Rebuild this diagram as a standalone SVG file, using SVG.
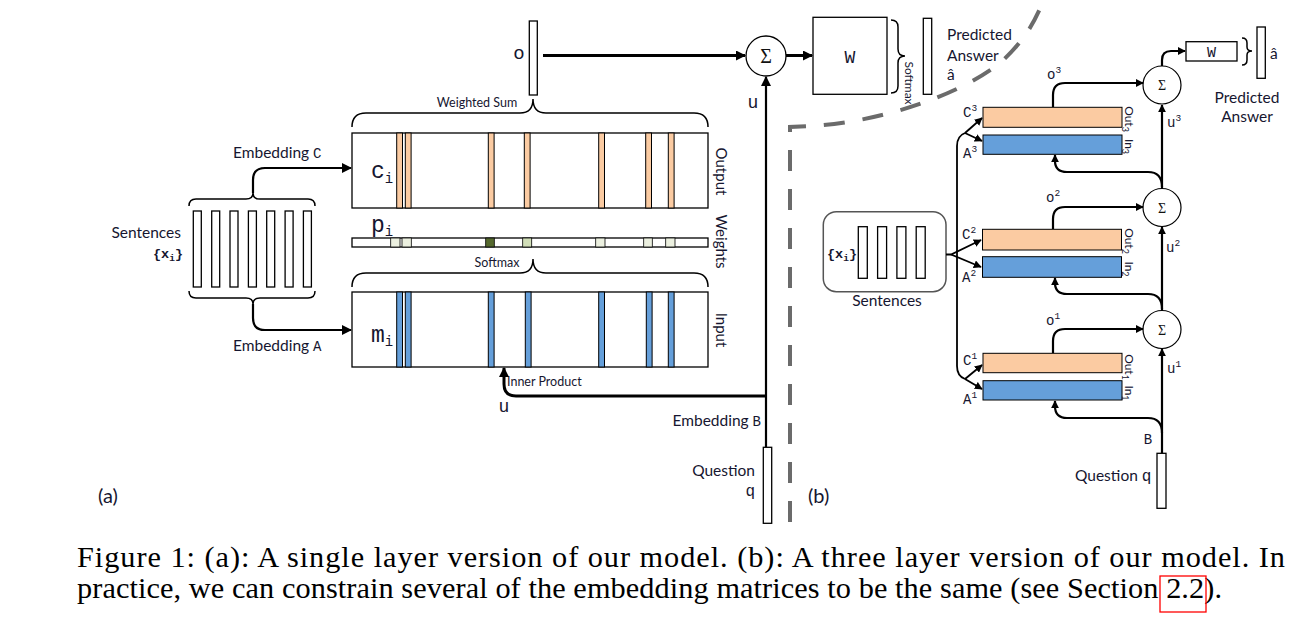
<svg xmlns="http://www.w3.org/2000/svg" width="1309" height="622" viewBox="0 0 1309 622">
<style>
.lbl{font-family:Lato,"Open Sans","Liberation Sans",sans-serif;fill:#161630}
.mono{font-family:"Liberation Mono","DejaVu Sans Mono",monospace;fill:#161630}
.ser{font-family:"Liberation Serif","DejaVu Serif",serif;fill:#111}
.box{fill:#fff;stroke:#000;stroke-width:1.3}
.or{fill:#FBCBA2;stroke:#000;stroke-width:1}
.bl{fill:#659FDA;stroke:#000;stroke-width:1}
.wt{stroke:#000;stroke-width:0.8}
.br{fill:none;stroke:#000;stroke-width:1.5}
.c3{fill:none;stroke:#000;stroke-width:3}
.c2{fill:none;stroke:#000;stroke-width:2.2}
.c1{fill:none;stroke:#000;stroke-width:1.8}
.cap{font-family:"Liberation Serif","Times New Roman",serif;font-size:30.3px;fill:#000}
</style>
<defs>
<marker id="ah" viewBox="0 0 10 10" refX="9" refY="5" markerWidth="11" markerHeight="10" markerUnits="userSpaceOnUse" orient="auto"><path d="M0,0 L10,5 L0,10 z" fill="#000"/></marker>
<marker id="as" viewBox="0 0 10 10" refX="9" refY="5" markerWidth="8" markerHeight="8" markerUnits="userSpaceOnUse" orient="auto"><path d="M0,0 L10,5 L0,10 z" fill="#000"/></marker>
</defs>
<rect width="1309" height="622" fill="#fff"/>

<!-- dashed separator -->
<path d="M790 522 L790 127 L812 126 C880 122 960 95 1000 63 C1020 45 1032 28 1042 4" fill="none" stroke="#6b6b6b" stroke-width="4" stroke-dasharray="21 18"/>

<!-- ===== (a) ===== -->
<g id="sentences-a">
<rect class="box" x="193.3" y="211" width="8" height="76"/>
<rect class="box" x="211.7" y="211" width="8" height="76"/>
<rect class="box" x="230" y="211" width="8" height="76"/>
<rect class="box" x="248.4" y="211" width="8" height="76"/>
<rect class="box" x="266.7" y="211" width="8" height="76"/>
<rect class="box" x="285.1" y="211" width="8" height="76"/>
<rect class="box" x="303.4" y="211" width="8" height="76"/>
<text class="lbl" x="181" y="238" font-size="15.5" text-anchor="end">Sentences</text>
<text class="mono" x="183" y="258" font-size="13.5" font-weight="bold" text-anchor="end">{x<tspan font-size="9.5" dy="3">i</tspan><tspan dy="-3">}</tspan></text>
<path class="br" d="M189 206 Q189 199 196 199 L246 199 Q253 199 253 193 Q253 199 260 199 L308 199 Q315 199 315 206"/>
<path class="br" d="M189 291 Q189 298 196 298 L246 298 Q253 298 253 304 Q253 298 260 298 L308 298 Q315 298 315 291"/>
</g>

<g id="output-mem">
<rect class="box" x="352" y="133" width="356" height="75"/>
<rect class="or" x="396.7" y="133" width="5.8" height="75"/>
<rect class="or" x="405.3" y="133" width="5.8" height="75"/>
<rect class="or" x="488.3" y="133" width="5.8" height="75"/>
<rect class="or" x="524.3" y="133" width="5.8" height="75"/>
<rect class="or" x="598.7" y="133" width="5.8" height="75"/>
<rect class="or" x="645.7" y="133" width="5.8" height="75"/>
<rect class="or" x="668.3" y="133" width="5.8" height="75"/>
<text class="mono" x="371" y="178" font-size="23">c<tspan font-size="14" dy="5">i</tspan></text>
<text class="lbl" font-size="15" text-anchor="middle" transform="translate(715.5,171.5) rotate(90)">Output</text>
</g>

<g id="weights">
<rect class="box" x="352" y="238" width="356" height="9" stroke-width="1"/>
<rect class="wt" x="390.7" y="238" width="9.3" height="9" fill="#ECF0E0"/>
<rect class="wt" x="402" y="238" width="9.3" height="9" fill="#ECF0E0"/>
<rect class="wt" x="485.7" y="238" width="8.6" height="9" fill="#56692F"/>
<rect class="wt" x="522.7" y="238" width="9" height="9" fill="#D1DEB8"/>
<rect class="wt" x="595.7" y="238" width="9.3" height="9" fill="#ECF0E0"/>
<rect class="wt" x="643.7" y="238" width="8.6" height="9" fill="#ECF0E0"/>
<rect class="wt" x="665.7" y="238" width="9.3" height="9" fill="#ECF0E0"/>
<text class="mono" x="371" y="232" font-size="23">p<tspan font-size="14" dy="4">i</tspan></text>
<text class="lbl" font-size="15" text-anchor="middle" transform="translate(715.5,241.5) rotate(90)">Weights</text>
</g>

<g id="input-mem">
<rect class="box" x="352" y="292" width="356" height="75"/>
<rect class="bl" x="396.7" y="292" width="5.8" height="75"/>
<rect class="bl" x="405.3" y="292" width="5.8" height="75"/>
<rect class="bl" x="488.3" y="292" width="5.8" height="75"/>
<rect class="bl" x="525.3" y="292" width="5.8" height="75"/>
<rect class="bl" x="598.7" y="292" width="5.8" height="75"/>
<rect class="bl" x="646.3" y="292" width="5.8" height="75"/>
<rect class="bl" x="668.3" y="292" width="5.8" height="75"/>
<text class="mono" x="371" y="342" font-size="23">m<tspan font-size="14" dy="4">i</tspan></text>
<text class="lbl" font-size="15" text-anchor="middle" transform="translate(715.5,330) rotate(90)">Input</text>
</g>

<g id="braces-a">
<path class="br" d="M352 127 Q352 113 366 113 L520 113 Q533 113 533 99 Q533 113 546 113 L694 113 Q708 113 708 127"/>
<text class="lbl" x="477" y="107" font-size="12.5" text-anchor="middle">Weighted Sum</text>
<path class="br" d="M352 287 Q352 273 366 273 L520 273 Q533 273 533 259 Q533 273 546 273 L694 273 Q708 273 708 287"/>
<text class="lbl" x="497" y="267" font-size="12.5" text-anchor="middle">Softmax</text>
</g>

<g id="o-vec">
<rect class="box" x="529.3" y="21" width="8" height="74"/>
<text class="mono" x="519" y="59" font-size="19" text-anchor="middle">o</text>
</g>

<g id="sum-a">
<circle cx="766" cy="56" r="20" fill="#fff" stroke="#000" stroke-width="1.3"/>
<text class="ser" x="766" y="63" font-size="20" text-anchor="middle">Σ</text>
</g>

<g id="W-a">
<rect class="box" x="813" y="17.3" width="74" height="77"/>
<text class="mono" x="850" y="63" font-size="18" text-anchor="middle">W</text>
<path class="br" d="M891 20 Q898 20 898 27 L898 49 Q898 56 905 56 Q898 56 898 63 L898 86 Q898 93 891 93"/>
<text class="lbl" font-size="12" text-anchor="middle" transform="translate(905,83) rotate(90)">Softmax</text>
</g>

<g id="answer-a">
<rect class="box" x="923.3" y="18.3" width="8.4" height="76"/>
<text class="lbl" x="947" y="40" font-size="15.5">Predicted</text>
<text class="lbl" x="947" y="61" font-size="15.5">Answer</text>
<text class="lbl" x="947" y="80" font-size="15.5">â</text>
</g>

<g id="question-a">
<rect class="box" x="763.3" y="447.3" width="8.4" height="76"/>
<text class="lbl" x="755" y="476" font-size="15.5" text-anchor="end">Question</text>
<text class="mono" x="755" y="496" font-size="16" text-anchor="end">q</text>
</g>

<g id="labels-a">
<text class="lbl" x="233" y="158" font-size="15.5">Embedding <tspan class="mono" font-size="14">C</tspan></text>
<text class="lbl" x="233" y="351" font-size="15.5">Embedding <tspan class="mono" font-size="14">A</tspan></text>
<text class="lbl" x="761" y="426" font-size="15.5" text-anchor="end">Embedding <tspan class="mono" font-size="14">B</tspan></text>
<text class="lbl" x="507" y="386" font-size="12.5">Inner Product</text>
<text class="mono" x="504" y="412" font-size="18" text-anchor="middle">u</text>
<text class="mono" x="753" y="108" font-size="18" text-anchor="middle">u</text>
<text class="lbl" x="98" y="503" font-size="20">(a)</text>
</g>

<g id="connectors-a">
<path class="c2" d="M253 193 L253 180 Q253 168 265 168 L351 168" marker-end="url(#ah)"/>
<path class="c2" d="M253 304 L253 318 Q253 330 265 330 L351 330" marker-end="url(#ah)"/>
<path class="c3" d="M543 55.5 L745 55.5" marker-end="url(#ah)"/>
<path class="c3" d="M786 55.5 L812 55.5" marker-end="url(#ah)"/>
<path class="c2" d="M766 447 L766 77" marker-end="url(#ah)"/>
<path class="c3" d="M766 396 L516 396 Q504 396 504 384 L504 368" marker-end="url(#ah)"/>
</g>

<!-- ===== (b) ===== -->
<g id="sentences-b">
<rect x="823.3" y="211.7" width="122.7" height="80" rx="13" fill="#fff" stroke="#555" stroke-width="1.5"/>
<rect class="box" x="858.3" y="226.7" width="9" height="51.6"/>
<rect class="box" x="877.6" y="226.7" width="9" height="51.6"/>
<rect class="box" x="896.9" y="226.7" width="9" height="51.6"/>
<rect class="box" x="916.2" y="226.7" width="9" height="51.6"/>
<text class="mono" x="827" y="258" font-size="13.5" font-weight="bold">{x<tspan font-size="9.5" dy="3">i</tspan><tspan dy="-3">}</tspan></text>
<text class="lbl" x="887" y="306" font-size="15.5" text-anchor="middle">Sentences</text>
</g>

<g id="layer3">
<rect class="or" x="983" y="107.3" width="139" height="20"/>
<rect class="bl" x="983" y="135" width="139" height="19.3"/>
<text class="mono" x="963" y="117" font-size="14">C<tspan font-size="9.5" dy="-6">3</tspan></text>
<text class="mono" x="963" y="158" font-size="14">A<tspan font-size="9.5" dy="-6">3</tspan></text>
<text class="lbl" font-size="12" text-anchor="middle" transform="translate(1125,119) rotate(90)">Out<tspan font-size="9" dy="3">3</tspan></text>
<text class="lbl" font-size="12" text-anchor="middle" transform="translate(1125,146.5) rotate(90)">In<tspan font-size="9" dy="3">3</tspan></text>
<text class="mono" x="1047" y="79" font-size="14">o<tspan font-size="9.5" dy="-6">3</tspan></text>
<text class="mono" x="1167" y="127" font-size="14">u<tspan font-size="9.5" dy="-6">3</tspan></text>
</g>
<g id="sum3">
<circle cx="1162" cy="85" r="19" fill="#fff" stroke="#000" stroke-width="1.2"/>
<text class="ser" x="1162" y="90" font-size="14" text-anchor="middle">Σ</text>
</g>

<g id="layer2">
<rect class="or" x="982.5" y="229.3" width="139" height="20.7"/>
<rect class="bl" x="982.5" y="256.7" width="139" height="20.6"/>
<text class="mono" x="962" y="239" font-size="14">C<tspan font-size="9.5" dy="-6">2</tspan></text>
<text class="mono" x="962" y="282" font-size="14">A<tspan font-size="9.5" dy="-6">2</tspan></text>
<text class="lbl" font-size="12" text-anchor="middle" transform="translate(1125,241) rotate(90)">Out<tspan font-size="9" dy="3">2</tspan></text>
<text class="lbl" font-size="12" text-anchor="middle" transform="translate(1125,269) rotate(90)">In<tspan font-size="9" dy="3">2</tspan></text>
<text class="mono" x="1046" y="202" font-size="14">o<tspan font-size="9.5" dy="-6">2</tspan></text>
<text class="mono" x="1166" y="252" font-size="14">u<tspan font-size="9.5" dy="-6">2</tspan></text>
</g>
<g id="sum2">
<circle cx="1162" cy="207.5" r="19" fill="#fff" stroke="#000" stroke-width="1.2"/>
<text class="ser" x="1162" y="212.5" font-size="14" text-anchor="middle">Σ</text>
</g>

<g id="layer1">
<rect class="or" x="983" y="353.3" width="139" height="19.4"/>
<rect class="bl" x="983" y="380.7" width="139" height="19.3"/>
<text class="mono" x="963" y="365" font-size="14">C<tspan font-size="9.5" dy="-6">1</tspan></text>
<text class="mono" x="963" y="404" font-size="14">A<tspan font-size="9.5" dy="-6">1</tspan></text>
<text class="lbl" font-size="12" text-anchor="middle" transform="translate(1125,367) rotate(90)">Out<tspan font-size="9" dy="3">1</tspan></text>
<text class="lbl" font-size="12" text-anchor="middle" transform="translate(1125,393) rotate(90)">In<tspan font-size="9" dy="3">1</tspan></text>
<text class="mono" x="1046" y="325" font-size="14">o<tspan font-size="9.5" dy="-6">1</tspan></text>
<text class="mono" x="1167" y="373" font-size="14">u<tspan font-size="9.5" dy="-6">1</tspan></text>
</g>
<g id="sum1">
<circle cx="1162" cy="329.5" r="19" fill="#fff" stroke="#000" stroke-width="1.2"/>
<text class="ser" x="1162" y="334.5" font-size="14" text-anchor="middle">Σ</text>
</g>

<g id="W-b">
<rect class="box" x="1186" y="41.7" width="51" height="19.3"/>
<text class="mono" x="1211.5" y="57" font-size="15" text-anchor="middle">W</text>
<path class="br" d="M1242 38 Q1247 38 1247 43 L1247 47 Q1247 51 1252 51 Q1247 51 1247 55 L1247 60 Q1247 65 1242 65"/>
</g>

<g id="answer-b">
<rect class="box" x="1257" y="27" width="8.3" height="51.3"/>
<text class="lbl" x="1270" y="59" font-size="15.5">â</text>
<text class="lbl" x="1247" y="103" font-size="15.5" text-anchor="middle">Predicted</text>
<text class="lbl" x="1247" y="122" font-size="15.5" text-anchor="middle">Answer</text>
</g>

<g id="question-b">
<rect class="box" x="1157" y="453.3" width="9" height="55"/>
<text class="lbl" x="1075" y="481" font-size="15.5">Question <tspan class="mono" font-size="16">q</tspan></text>
<text class="mono" x="1148" y="444" font-size="14" text-anchor="middle">B</text>
<text class="lbl" x="808" y="503" font-size="20">(b)</text>
</g>

<g id="connectors-b">
<path class="c1" d="M965 133 Q957 136 957 146 L957 366 Q957 376 965 379"/>
<path class="c1" d="M965 133 L982 118" marker-end="url(#as)"/>
<path class="c1" d="M965 133 L982 141" marker-end="url(#as)"/>
<path class="c1" d="M965 379 L982 365" marker-end="url(#as)"/>
<path class="c1" d="M965 379 L982 389" marker-end="url(#as)"/>
<path class="c1" d="M946 254.5 L951 254.5 L981 240" marker-end="url(#as)"/>
<path class="c1" d="M951 254.5 L981 267" marker-end="url(#as)"/>
<path class="c2" d="M1162 453 L1162 349" marker-end="url(#as)"/>
<path class="c2" d="M1162 310 L1162 227" marker-end="url(#as)"/>
<path class="c2" d="M1162 188 L1162 105" marker-end="url(#as)"/>
<path class="c2" d="M1162 433 Q1162 418 1148 418 L1067 418 Q1055 418 1055 406 L1055 401" marker-end="url(#as)"/>
<path class="c2" d="M1162 309 Q1162 294 1148 294 L1067 294 Q1055 294 1055 283 L1055 278" marker-end="url(#as)"/>
<path class="c2" d="M1162 187 Q1162 172 1148 172 L1067 172 Q1055 172 1055 161 L1055 155" marker-end="url(#as)"/>
<path class="c2" d="M1053 353 L1053 341 Q1053 329 1065 329 L1143 329" marker-end="url(#as)"/>
<path class="c2" d="M1053 229 L1053 219 Q1053 207 1065 207 L1143 207" marker-end="url(#as)"/>
<path class="c2" d="M1053 107 L1053 95 Q1053 83 1065 83 L1143 83" marker-end="url(#as)"/>
<path class="c2" d="M1162 66 L1162 60 Q1162 51 1171 51 L1185 51" marker-end="url(#as)"/>
</g>

<!-- caption -->
<g id="caption">
<text class="cap" x="77" y="567" textLength="1208" lengthAdjust="spacing">Figure 1: (a): A single layer version of our model. (b): A three layer version of our model. In</text>
<text class="cap" x="77" y="598" textLength="1145" lengthAdjust="spacing">practice, we can constrain several of the embedding matrices to be the same (see Section 2.2).</text>
<rect x="1160" y="576" width="46" height="36" fill="none" stroke="#f00" stroke-width="1.3"/>
</g>
</svg>
